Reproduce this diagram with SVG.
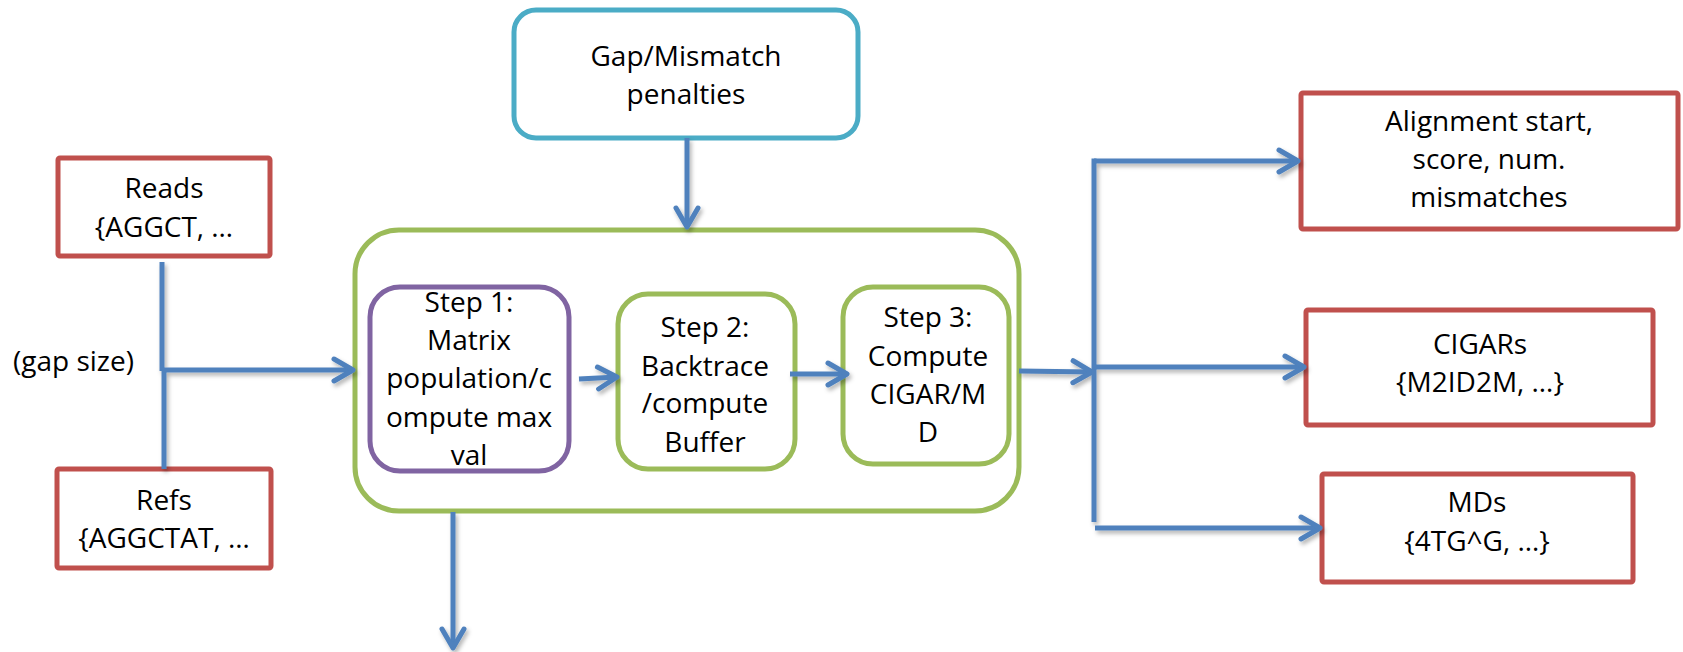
<svg xmlns="http://www.w3.org/2000/svg" width="1683" height="652" viewBox="0 0 1683 652">
  <style>
    .lbl { font-family: "Open Sans", "Liberation Sans", sans-serif; font-size: 28px; fill: #000; text-anchor: middle; }
    .io { fill: #fff; stroke: #C0504D; stroke-width: 5; }
    .param { fill: #fff; stroke: #4BACC6; stroke-width: 5; }
    .stage { fill: #fff; stroke: #9BBB59; stroke-width: 5; }
    .step1 { fill: #fff; stroke: #8064A2; stroke-width: 5; }
    .conn path { fill: none; stroke: #4F81BD; stroke-width: 5; }
    .conn .arr { marker-end: url(#chev); }
  </style>
  <defs>
    <marker id="chev" markerUnits="userSpaceOnUse" markerWidth="30" markerHeight="30" viewBox="-24 -15 30 30" refX="0" refY="0" orient="auto" overflow="visible">
      <path d="M-19 -11 L0 0 L-19 11" fill="none" stroke="#4F81BD" stroke-width="5" stroke-linecap="round" stroke-linejoin="round"/>
    </marker>
    <filter id="shadow" x="-10%" y="-10%" width="120%" height="120%">
      <feDropShadow dx="2" dy="3" stdDeviation="2" flood-color="#000" flood-opacity="0.3"/>
    </filter>
  </defs>

  <rect width="1683" height="652" fill="#fff"/>

  <!-- inputs -->
  <g id="reads">
    <rect class="io" x="58" y="158" width="212" height="98" rx="2"/>
    <text class="lbl" x="164" y="198">Reads</text>
    <text class="lbl" x="164" y="237">{AGGCT, …</text>
  </g>
  <g id="refs">
    <rect class="io" x="57" y="469" width="214" height="99" rx="2"/>
    <text class="lbl" x="164" y="510">Refs</text>
    <text class="lbl" x="164" y="548">{AGGCTAT, …</text>
  </g>
  <g id="gap-size">
    <text class="lbl" x="13" y="371" style="text-anchor:start">(gap size)</text>
  </g>
  <g id="penalties">
    <rect class="param" x="514" y="10" width="344" height="128" rx="22"/>
    <text class="lbl" x="686" y="66">Gap/Mismatch</text>
    <text class="lbl" x="686" y="104">penalties</text>
  </g>

  <!-- aligner stage with its three steps -->
  <g id="aligner">
    <rect class="stage" x="355" y="230" width="664" height="281" rx="44"/>
  </g>
  <g id="step1">
    <rect class="step1" x="370" y="287" width="199" height="184" rx="30"/>
    <text class="lbl" x="469" y="312">Step 1:</text>
    <text class="lbl" x="469" y="350">Matrix</text>
    <text class="lbl" x="469" y="388">population/c</text>
    <text class="lbl" x="469" y="427">ompute max</text>
    <text class="lbl" x="469" y="465">val</text>
  </g>
  <g id="step2">
    <rect class="stage" x="618" y="294" width="177" height="175" rx="30"/>
    <text class="lbl" x="705" y="337">Step 2:</text>
    <text class="lbl" x="705" y="376">Backtrace</text>
    <text class="lbl" x="705" y="413">/compute</text>
    <text class="lbl" x="705" y="452">Buffer</text>
  </g>
  <g id="step3">
    <rect class="stage" x="843" y="287" width="166" height="177" rx="30"/>
    <text class="lbl" x="928" y="327">Step 3:</text>
    <text class="lbl" x="928" y="366">Compute</text>
    <text class="lbl" x="928" y="404">CIGAR/M</text>
    <text class="lbl" x="928" y="442">D</text>
  </g>

  <!-- outputs -->
  <g id="alignment">
    <rect class="io" x="1301" y="93" width="377" height="136" rx="2"/>
    <text class="lbl" x="1489" y="131">Alignment start,</text>
    <text class="lbl" x="1489" y="169">score, num.</text>
    <text class="lbl" x="1489" y="207">mismatches</text>
  </g>
  <g id="cigars">
    <rect class="io" x="1306" y="310" width="347" height="115" rx="2"/>
    <text class="lbl" x="1480" y="354">CIGARs</text>
    <text class="lbl" x="1480" y="392">{M2ID2M, …}</text>
  </g>
  <g id="mds">
    <rect class="io" x="1322" y="474" width="311" height="108" rx="2"/>
    <text class="lbl" x="1477" y="512">MDs</text>
    <text class="lbl" x="1477" y="551">{4TG^G, …}</text>
  </g>

  <!-- connectors -->
  <g id="connectors" class="conn" filter="url(#shadow)">
    <path d="M162 262 L162 371"/>
    <path d="M164 369 L164 469"/>
    <path class="arr" d="M162 370 L353 370"/>
    <path class="arr" d="M687 138 L687 227"/>
    <path class="arr" d="M579 379 L617 377"/>
    <path class="arr" d="M790 374 L847 374"/>
    <path class="arr" d="M1019 371 L1092 372"/>
    <path d="M1094 158.5 L1094 522"/>
    <path class="arr" d="M1094 161 L1298 161"/>
    <path class="arr" d="M1094 367 L1304 367"/>
    <path class="arr" d="M1095 528 L1320 528"/>
    <path class="arr" d="M453 512 L453 648"/>
  </g>
</svg>
